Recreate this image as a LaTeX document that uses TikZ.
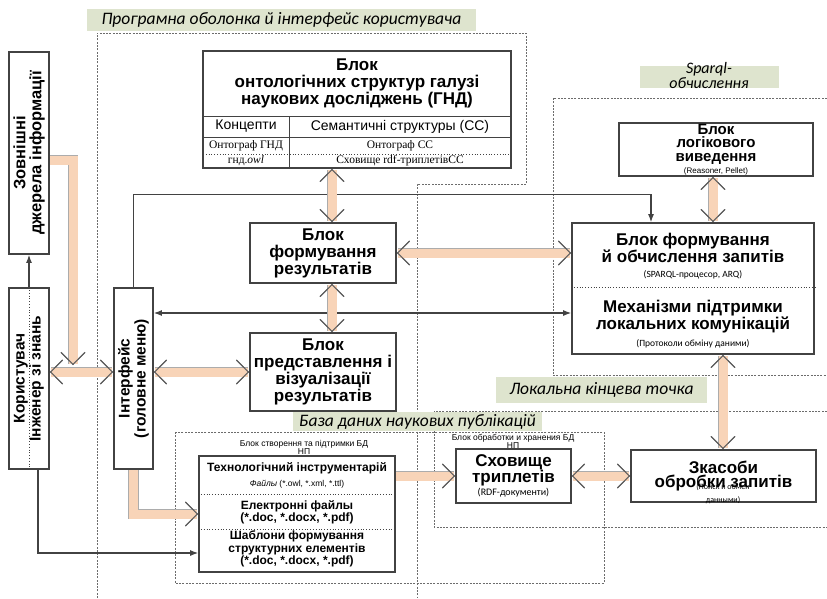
\documentclass[tikz,border=0pt]{standalone}
\usepackage{fontspec}
\setmainfont{Liberation Sans}
\newfontfamily\timesfont{Liberation Serif}
\newfontfamily\calibfont{Carlito}
\usetikzlibrary{arrows.meta}

\definecolor{peach}{RGB}{248,212,184}
\definecolor{sage}{RGB}{222,228,206}
\definecolor{edgegray}{RGB}{66,66,66}

\begin{document}
\begin{tikzpicture}[
        x=1pt, y=-1pt,
        >={Straight Barb[length=12pt,width=24pt,line width=1pt,color=gray!75!black]},
        block/.style={rectangle, draw=edgegray, line width=1.8pt, fill=white, inner sep=0pt, align=center, font=\fontsize{17}{17}\selectfont\bfseries},
        vlabel/.style={rotate=90, align=center, font=\fontsize{15.5}{16}\selectfont\bfseries},
        region/.style={draw=gray!85!black, line width=0.6pt, dash pattern=on 2pt off 1.3pt},
        tag/.style={fill=sage, inner sep=0pt, font=\calibfont\itshape\fontsize{17.5}{17}\selectfont},
        note/.style={align=center, font=\fontsize{8.5}{8}\selectfont},
        divider/.style={draw=edgegray, line width=0.8pt, dotted},
        link/.style={draw=edgegray, line width=1.1pt},
        band/.style={line width=9pt, draw=peach, preaction={draw=gray!65, line width=10.5pt}, ->},
        bandboth/.style={band, <->}
    ]

        \useasboundingbox (0,0) rectangle (827,598);

        % dashed areas
        \draw[region] (97,598) -- (97,33) -- (526,33) -- (526,184) -- (417,184) -- (417,598);
        \draw[region] (827,98) -- (553,98) -- (553,375) -- (827,375);
        \draw[region] (827,411) -- (434,411) -- (434,527) -- (827,527);
        \draw[region] (175,432) rectangle (604,583);

        \node[tag, minimum width=389pt, minimum height=22pt] (prog_tag) at (281.5,20) {Програмна оболонка й інтерфейс користувача};
        \fill[sage] (640,66) rectangle (779,88);
        \node[tag, fill=none, align=center, font=\calibfont\itshape\fontsize{16}{15}\selectfont] (sparql_tag) at (709,75) {Sparql-\\обчислення};
        \node[tag, minimum width=211pt, minimum height=26pt] (local_tag) at (601.5,390) {Локальна кінцева точка};
        \node[tag, minimum width=249pt, minimum height=19pt] (db_tag) at (417.5,421.5) {База даних наукових публікацій};

        \node[note] (make_cap) at (304,447) {Блок створення та підтримки БД\\НП};
        \node[note] (keep_cap) at (513,441) {Блок обработки и хранения БД\\НП};

        % left column
        \node[block, minimum width=40pt, minimum height=202pt, label={[vlabel, font=\fontsize{16.5}{16}\selectfont\bfseries]center:{Зовнішні\\джерела інформації}}] (ext_box) at (29,153) {};
        \node[block, minimum width=40pt, minimum height=181pt] (user_box) at (29,378.5) {};
        \draw[divider] (user_box.north) -- (user_box.south);
        \node[vlabel] (user_text) at (29,378.5) {Користувач\\Інженер зі знань};
        \node[block, minimum width=39pt, minimum height=181pt, label={[vlabel]center:{Інтерфейс\\(головне меню)}}] (iface_box) at (133.5,378.5) {};

        % ontology block
        \node[block, minimum width=308pt, minimum height=117pt] (onto_box) at (357,109.5) {};
        \node[align=center, font=\fontsize{17}{17}\selectfont\bfseries] (onto_title) at (357,83) {Блок\\онтологічних структур галузі\\наукових досліджень (ГНД)};
        \draw[edgegray, line width=0.8pt] (203,116) -- (511,116) (203,137) -- (511,137) (289,116) -- (289,168);
        \draw[divider] (203,154) -- (511,154);
        \node[font=\fontsize{14}{14}\selectfont] (concept_cell) at (246,126.5) {Концепти};
        \node[font=\fontsize{14}{14}\selectfont] (sem_cell) at (400,126.5) {Семантичні структуры (СС)};
        \node[font=\timesfont\fontsize{11.5}{12}\selectfont] (graph1_cell) at (246,145.5) {Онтограф ГНД};
        \node[font=\timesfont\fontsize{11.5}{12}\selectfont] (graph2_cell) at (400,145.5) {Онтограф СС};
        \node[font=\timesfont\fontsize{11.5}{12}\selectfont] (owl_cell) at (246,161) {гнд.\textit{owl}};
        \node[font=\timesfont\fontsize{11.5}{12}\selectfont] (rdf_cell) at (400,161) {Сховище rdf-триплетівСС};

        % middle blocks
        \node[block, minimum width=146pt, minimum height=60pt] (res_box) at (323,253) {Блок\\формування\\результатів};
        \node[block, minimum width=146pt, minimum height=78pt] (vis_box) at (323,372) {Блок\\представлення і\\візуалізації\\результатів};

        % sparql blocks
        \node[block, minimum width=194pt, minimum height=53pt, font=\fontsize{15}{13.5}\selectfont\bfseries] (infer_box) at (716,149.5) {Блок\\логікового\\виведення\\[-1pt]{\fontsize{8}{8}\selectfont\mdseries (Reasoner, Pellet)}};
        \node[block, minimum width=242pt, minimum height=131pt] (query_box) at (693,288.5) {};
        \draw[divider] ([yshift=1.5pt]query_box.west) -- ([yshift=1.5pt]query_box.east);
        \node[align=center, font=\fontsize{17}{17}\selectfont\bfseries] (query_top) at (693,256) {Блок формування\\й обчислення запитів\\[-2pt]{\calibfont\fontsize{9.5}{9.5}\selectfont\mdseries (SPARQL-процесор, ARQ)}};
        \node[align=center, font=\fontsize{17}{17}\selectfont\bfseries] (query_bot) at (693,324) {Механізми підтримки\\локальних комунікацій\\{\calibfont\fontsize{9.5}{9.5}\selectfont\mdseries (Протоколи обміну даними)}};

        % database
        \node[block, minimum width=115pt, minimum height=54pt, font=\fontsize{17}{16}\selectfont\bfseries] (store_box) at (513.5,476) {Сховище\\триплетів\\[-3pt]{\calibfont\fontsize{10}{10}\selectfont\mdseries (RDF-документи)}};
        \node[block, minimum width=185pt, minimum height=52pt, font=\fontsize{17}{14}\selectfont\bfseries] (tools_box) at (723.5,476) {Зкасоби\\обробки запитів};
        \node[note, font=\calibfont\fontsize{8}{13}\selectfont] (tools_note) at (723,494) {(Поиск и обмен\\данными)};

        \node[block, minimum width=196pt, minimum height=116pt] (tech_box) at (297,514) {};
        \draw[divider] ([yshift=20pt]tech_box.west) -- ([yshift=20pt]tech_box.east);
        \draw[divider] ([yshift=-15pt]tech_box.west) -- ([yshift=-15pt]tech_box.east);
        \node[font=\fontsize{12}{12}\selectfont\bfseries] (tech_title) at (297,468) {Технологічний інструментарій};
        \node[font=\fontsize{8.5}{9}\selectfont] (tech_files) at (297,484) {\textit{Файлы} (*.owl, *.xml, *.ttl)};
        \node[align=center, font=\fontsize{12}{11}\selectfont\bfseries] (tech_docs) at (297,512) {Електронні файлы\\(*.doc, *.docx, *.pdf)};
        \node[align=center, font=\fontsize{12}{11}\selectfont\bfseries] (tech_tmpl) at (297,549) {Шаблони формування\\структурних елементів\\(*.doc, *.docx, *.pdf)};

        % thin links
        \draw[link, -{Latex[length=8pt,width=6pt]}] (user_box.north) -- (ext_box.south);
        \draw[link, -{Latex[length=8pt,width=6pt]}] ([xshift=9pt]user_box.south) |- ([yshift=-39pt]tech_box.west);
        \draw[link, -{Latex[length=8pt,width=6pt]}] (iface_box.north) -- ++(0,-93) -| ([xshift=-42pt]query_box.north);
        \draw[link, {Latex[length=8pt,width=6pt]}-{Latex[length=8pt,width=6pt]}] ([yshift=-24.5pt]query_box.west) -- ([yshift=-24.5pt]query_box.west -| iface_box.east);

        % wide arrows
        \coordinate (merge) at (73,365);
        \draw[band] ([yshift=-7pt]ext_box.east) -| (merge);
        \draw[bandboth] (user_box.east |- vis_box.west) -- (iface_box.west |- vis_box.west);
        \draw[bandboth] (iface_box.east |- vis_box.west) -- (vis_box.west);
        \draw[bandboth] ([xshift=-25pt]onto_box.south) -- ([xshift=9pt]res_box.north);
        \draw[bandboth] ([xshift=9pt]res_box.south) -- ([xshift=9pt]vis_box.north);
        \draw[bandboth] (res_box.east) -- (res_box.east -| query_box.west);
        \draw[bandboth] ([xshift=-3pt]infer_box.south) -- ([xshift=20pt]query_box.north);
        \draw[bandboth] ([xshift=30pt]query_box.south) -- ([xshift=-0.5pt]tools_box.north);
        \draw[band] (iface_box.south) |- (tech_box.west);
        \draw[band] (tech_box.east |- store_box.west) -- (store_box.west);
        \draw[bandboth] (store_box.east) -- (tools_box.west);

    \end{tikzpicture}
\end{document}
